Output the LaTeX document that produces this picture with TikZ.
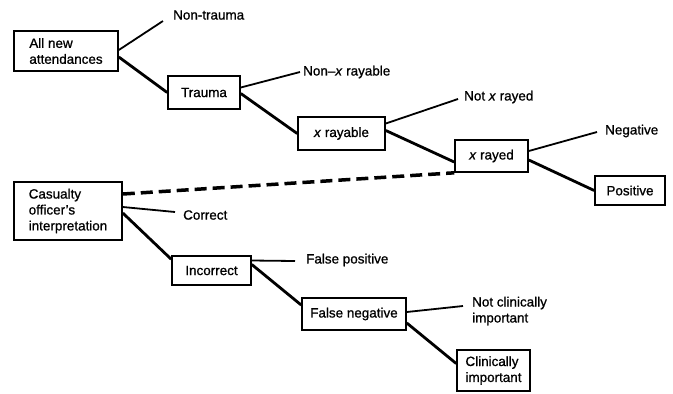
\documentclass[tikz,border=0pt]{standalone}
\usepackage{fontspec}
\setmainfont{Liberation Sans}[FakeBold=0.9]

\begin{document}
\begin{tikzpicture}[x=1bp, y=-1bp,
                    every node/.style={font=\fontsize{13.5}{16}\selectfont},
                    box/.style={draw, line width=1.6bp, align=left, inner sep=2bp},
                    leaf/.style={anchor=west, align=left, inner sep=0pt},
                    branch/.style={line width=2.8bp},
                    twig/.style={line width=1.8bp},
                    link/.style={line width=3.5bp, dash pattern=on 12bp off 6bp}
]
\useasboundingbox (0,0) rectangle (673,393);

\node [box, minimum width=104bp, minimum height=40bp] at (66,51) (all) {All new\\attendances};
\node [box, minimum width=72bp, minimum height=33bp] at (204,92.5) (trauma) {Trauma};
\node [box, minimum width=87bp, minimum height=33bp] at (341.5,133.5) (xrayable) {\textit{x} rayable};
\node [box, minimum width=73bp, minimum height=32bp] at (491.5,156) (xrayed) {\textit{x} rayed};
\node [box, minimum width=70bp, minimum height=29bp] at (630,190.5) (positive) {Positive};
\node [box, minimum width=108bp, minimum height=58bp] at (68,211) (casualty) {Casualty\\officer's\\interpretation};
\node [box, minimum width=79bp, minimum height=29bp] at (211.5,270.5) (incorrect) {Incorrect};
\node [box, minimum width=104bp, minimum height=32bp] at (354,314) (falseneg) {False negative};
\node [box, minimum width=73bp, minimum height=41bp] at (493.5,370.5) (clinical) {Clinically\\important};

\node [leaf] at (173,15) (nontrauma) {Non-trauma};
\node [leaf] at (303,72) (nonxr) {Non--\textit{x} rayable};
\node [leaf] at (464,97) (notxr) {Not \textit{x} rayed};
\node [leaf] at (605,131) (negative) {Negative};
\node [leaf] at (183,215) (correct) {Correct};
\node [leaf] at (306,260) (falsepos) {False positive};
\node [leaf] at (472,311) (notclin) {Not clinically\\important};

\draw [twig] ([yshift=1bp]all.east) -- ([shift={(-10,6)}]nontrauma.west);
\draw [branch] ([yshift=-6bp]all.east) -- (trauma.west);
\draw [twig] ([yshift=5bp]trauma.east) -- ([shift={(-3,0)}]nonxr.west);
\draw [branch] ([yshift=-1bp]trauma.east) -- (xrayable.west);
\draw [twig] ([yshift=10bp]xrayable.east) -- ([shift={(-6,2)}]notxr.west);
\draw [branch] ([yshift=3bp]xrayable.east) -- ([yshift=-6bp]xrayed.west);
\draw [twig] ([yshift=5bp]xrayed.east) -- ([shift={(-8,1)}]negative.west);
\draw [branch] ([yshift=-4bp]xrayed.east) -- (positive.west);
%
\draw [link] ([yshift=17bp]casualty.east) -- (xrayed.south west);
%
\draw [twig] ([yshift=4bp]casualty.east) -- ([shift={(-8,-3)}]correct.west);
\draw [branch] ([yshift=-2bp]casualty.east) -- ([yshift=-4bp]incorrect.north west);
\draw [twig] ([yshift=10bp]incorrect.east) -- ([shift={(-11,1)}]falsepos.west);
\draw [branch] ([yshift=6bp]incorrect.east) -- ([yshift=9bp]falseneg.west);
\draw [twig] ([yshift=2bp]falseneg.east) -- ([shift={(-9,-5)}]notclin.west);
\draw [branch] ([yshift=-9bp]falseneg.east) -- ([yshift=7bp]clinical.west);

\end{tikzpicture}
\end{document}
